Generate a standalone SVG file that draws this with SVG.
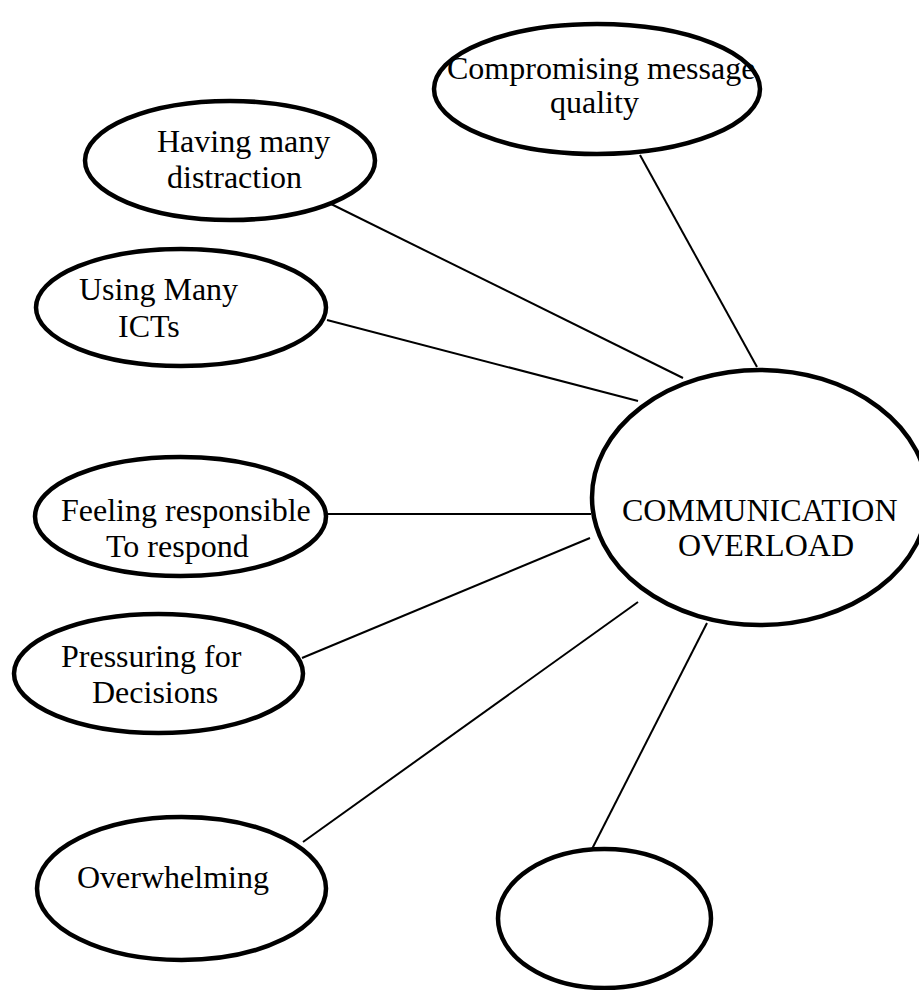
<svg xmlns="http://www.w3.org/2000/svg" width="919" height="990" viewBox="0 0 919 990">
<style>
.n ellipse{fill:#fff;stroke:#000;stroke-width:4.5}
.t{font-family:"Liberation Serif","Times New Roman",serif;font-size:32px;fill:#000}
#connectors line{stroke:#000;stroke-width:2}
</style>
<rect width="919" height="990" fill="#fff"/>
<g id="connectors">
<line x1="640" y1="155" x2="757" y2="367"/>
<line x1="327" y1="202" x2="683" y2="378"/>
<line x1="327" y1="320" x2="638" y2="401"/>
<line x1="328" y1="514" x2="591" y2="514"/>
<line x1="302" y1="658" x2="590" y2="538"/>
<line x1="303" y1="842" x2="638" y2="602"/>
<line x1="707" y1="623" x2="592" y2="849"/>
</g>
<g id="compromising" class="n">
<ellipse cx="597" cy="89" rx="163" ry="65"/>
<text class="t" x="447" y="79">Compromising message</text>
<text class="t" x="550" y="113">quality</text>
</g>
<g id="distraction" class="n">
<ellipse cx="230" cy="160.5" rx="145" ry="59.5"/>
<text class="t" x="157" y="152">Having many</text>
<text class="t" x="167" y="188">distraction</text>
</g>
<g id="icts" class="n">
<ellipse cx="181" cy="307.5" rx="145" ry="58.5"/>
<text class="t" x="79" y="300">Using Many</text>
<text class="t" x="118" y="337">ICTs</text>
</g>
<g id="overload" class="n">
<ellipse cx="760" cy="497.5" rx="168" ry="127.5"/>
<text class="t" x="622" y="521">COMMUNICATION</text>
<text class="t" x="678" y="556">OVERLOAD</text>
</g>
<g id="responsible" class="n">
<ellipse cx="180.5" cy="516.5" rx="145.5" ry="59.5"/>
<text class="t" x="61" y="521">Feeling responsible</text>
<text class="t" x="106" y="557">To respond</text>
</g>
<g id="decisions" class="n">
<ellipse cx="158.5" cy="673.5" rx="144.5" ry="59.5"/>
<text class="t" x="61" y="667">Pressuring for</text>
<text class="t" x="92" y="703">Decisions</text>
</g>
<g id="overwhelming" class="n">
<ellipse cx="181.5" cy="888.5" rx="144.5" ry="71.5"/>
<text class="t" x="77" y="888">Overwhelming</text>
</g>
<g id="empty" class="n">
<ellipse cx="604.5" cy="918.5" rx="106.5" ry="69.5"/>
</g>
</svg>
